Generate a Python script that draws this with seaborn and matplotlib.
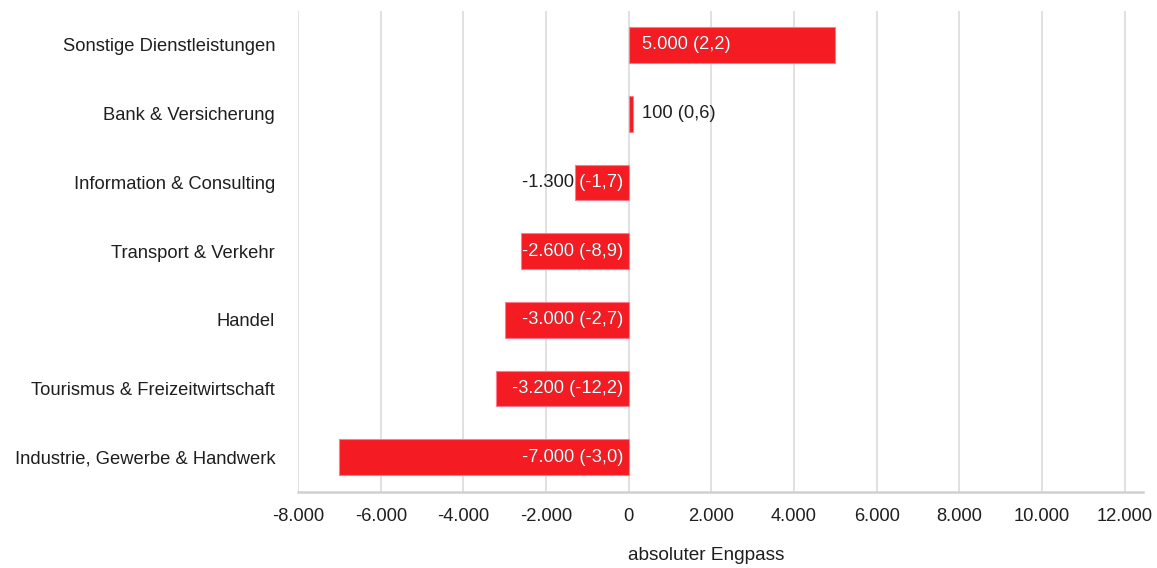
import matplotlib
matplotlib.use("Agg")
import matplotlib.pyplot as plt
import seaborn as sns
import pandas as pd

# Branchen und absoluter Engpass (Anteil in Klammern)
branchen = [
    "Sonstige Dienstleistungen",
    "Bank & Versicherung",
    "Information & Consulting",
    "Transport & Verkehr",
    "Handel",
    "Tourismus & Freizeitwirtschaft",
    "Industrie, Gewerbe & Handwerk",
]
engpass = [5000, 100, -1300, -2600, -3000, -3200, -7000]
anteil = [2.2, 0.6, -1.7, -8.9, -2.7, -12.2, -3.0]
x_ticks = [-8000, -6000, -4000, -2000, 0, 2000, 4000, 6000, 8000, 10000, 12000]

df = pd.DataFrame({"Branche": branchen, "Engpass": engpass})

sns.set_style("white")
plt.rcParams["font.family"] = ["Liberation Sans", "DejaVu Sans"]

fig = plt.figure(figsize=(11.57, 5.68), dpi=100)
ax = fig.add_axes([0.2576, 0.1343, 0.7304, 0.8470])

RED = "#f41b22"
TXT = "#1f1f1f"
FS = 13.2

sns.barplot(data=df, y="Branche", x="Engpass", orient="h", color=RED,
            saturation=1, width=0.52, edgecolor="#ff7a90", linewidth=0.8,
            ax=ax, zorder=3)

ax.set_xlim(-8000, 12450)
ax.set_ylim(6.5, -0.5)
ax.set_xticks(x_ticks)
ax.set_xticklabels([f"{v:,}".replace(",", ".") for v in x_ticks])
ax.grid(axis="x", color="#dcdcdc", linewidth=1.2, zorder=0)
ax.grid(axis="y", visible=False)
for s in ["top", "right", "left"]:
    ax.spines[s].set_visible(False)
ax.spines["bottom"].set_color("#d0d0d0")
ax.spines["bottom"].set_linewidth(1.8)
ax.spines["bottom"].set_zorder(4)
ax.tick_params(axis="both", length=0, labelsize=FS, colors=TXT)
ax.tick_params(axis="y", pad=16.5)
ax.tick_params(axis="x", pad=12)
ax.set_ylabel("")
ax.set_xlabel("absoluter Engpass", fontsize=FS + 0.5, color=TXT)
ax.xaxis.set_label_coords(0.483, -0.115)


def fmt_de(v, dec=0):
    s = f"{v:,.{dec}f}"
    return s.replace(",", "X").replace(".", ",").replace("X", ".")


# Werte-Beschriftung: schwarz außerhalb, weiß innerhalb des Balkens
for patch, v, p in zip(ax.patches, engpass, anteil):
    label = f"{fmt_de(v)} ({fmt_de(p, 1)})"
    yc = patch.get_y() + patch.get_height() / 2
    if v >= 0:
        off, ha = 9.5, "left"
    else:
        off, ha = -4, "right"
    for color, clip in ((TXT, None), ("white", patch)):
        t = ax.annotate(label, xy=(0, yc), xytext=(off, 0),
                        textcoords="offset points", ha=ha, va="center",
                        fontsize=FS, color=color, zorder=5)
        if clip is not None:
            t.set_clip_path(clip)
            t.set_clip_on(True)

fig.savefig("out.png", dpi=100)
